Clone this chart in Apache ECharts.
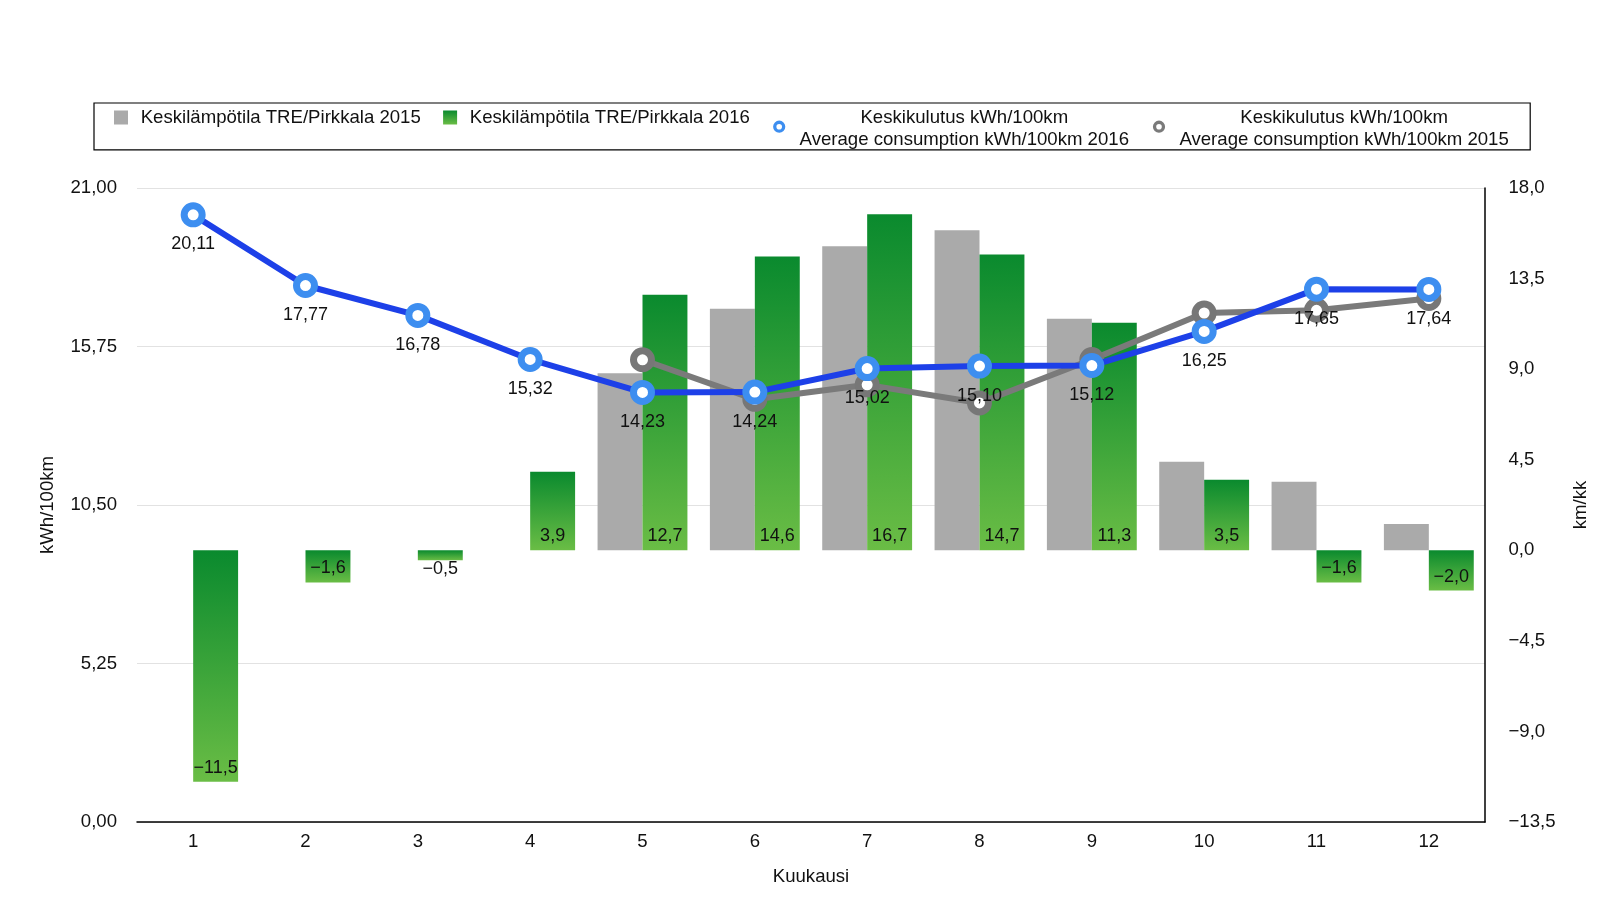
<!DOCTYPE html>
<html>
<head>
<meta charset="utf-8">
<script src="https://cdn.jsdelivr.net/npm/echarts@6/dist/echarts.min.js"></script>
<style>
html,body{margin:0;padding:0;background:#fff;}
#chart{width:1600px;height:923px;}
</style>
</head>
<body>
<div id="chart"></div>
<script>
var months = ['1','2','3','4','5','6','7','8','9','10','11','12'];
var temp2015 = [null, null, null, null, 8.8, 12.0, 15.1, 15.9, 11.5, 4.4, 3.4, 1.3];
var temp2016 = [-11.5, -1.6, -0.5, 3.9, 12.7, 14.6, 16.7, 14.7, 11.3, 3.5, -1.6, -2.0];
var cons2016 = [20.11, 17.77, 16.78, 15.32, 14.23, 14.24, 15.02, 15.10, 15.12, 16.25, 17.65, 17.64];
var cons2015 = [null, null, null, null, 15.31, 14.00, 14.48, 13.88, 15.32, 16.86, 16.95, 17.34];
var leftTicks = {min: 0, max: 21, interval: 5.25};
var rightTicks = {min: -13.5, max: 18, interval: 4.5};
var names = [
  'Keskilämpötila TRE/Pirkkala 2015',
  'Keskilämpötila TRE/Pirkkala 2016',
  'Keskikulutus kWh/100km\nAverage consumption kWh/100km 2016',
  'Keskikulutus kWh/100km\nAverage consumption kWh/100km 2015'
];

function fmt(v, d) {
  return Number(v).toFixed(d).replace('.', ',').replace('-', '\u2212');
}

var FONT = '"Liberation Sans", Arial, Helvetica, sans-serif';
var FS = 18.6;
var chart = echarts.init(document.getElementById('chart'));

function greenGrad(y2) {
  return new echarts.graphic.LinearGradient(0, 0, 0, y2, [
    {offset: 0, color: '#0a8a2e'},
    {offset: 1, color: '#6abd45'}
  ]);
}

var IH = 36.4;
var barIcon = 'path://M0,0L14,0L14,14L0,14Z M0,36.39L0.01,36.39L0.01,36.4L0,36.4Z M13.99,36.39L14,36.39L14,36.4L13.99,36.4Z';
var ringIcon = 'path://M0,0L0.01,0L0.01,0.01L0,0.01Z M13.99,36.39L14,36.39L14,36.4L13.99,36.4Z ' +
  'M0.9,16.2 A6.1,6.1 0 1 1 13.1,16.2 A6.1,6.1 0 1 1 0.9,16.2 Z ' +
  'M4.2,16.2 A2.8,2.8 0 1 0 9.8,16.2 A2.8,2.8 0 1 0 4.2,16.2 Z';

var greenData = temp2016.map(function (v) {
  var item = {value: v};
  if (v < 0 && v > -1) {
    item.label = {position: 'bottom', distance: 0};
  }
  return item;
});

var option = {
  animation: false,
  textStyle: {fontFamily: FONT},
  legend: {
    left: 94,
    top: 103,
    padding: [5, 13, 0.5, 20],
    borderColor: '#000',
    borderWidth: 1.2,
    itemWidth: 14,
    itemHeight: IH,
    itemGap: 14.6,
    selectedMode: false,
    textStyle: {
      fontFamily: FONT,
      fontSize: FS,
      color: '#111',
      rich: {
        a: {width: 295.5, align: 'center', fontSize: FS, lineHeight: 22.4, fontFamily: FONT, color: '#111'},
        b: {width: 346.2, align: 'center', fontSize: FS, lineHeight: 22.4, fontFamily: FONT, color: '#111'}
      }
    },
    formatter: function (name) {
      if (name.indexOf('\n') >= 0) {
        return name.split('\n').map(function (s) { return '{b|' + s + '}'; }).join('\n');
      }
      return '{a|' + name + '}\n{a| }';
    },
    data: [
      {name: names[0], icon: barIcon, itemStyle: {color: '#aaaaaa', borderWidth: 0}},
      {name: names[1], icon: barIcon, itemStyle: {color: greenGrad(14 / IH), borderWidth: 0}},
      {name: names[2], icon: ringIcon, itemStyle: {color: '#3d8ef0', borderWidth: 0}},
      {name: names[3], icon: ringIcon, itemStyle: {color: '#7a7a7a', borderWidth: 0}}
    ]
  },
  grid: {left: 137, right: 115, top: 188, bottom: 101},
  xAxis: {
    type: 'category',
    data: months,
    name: 'Kuukausi',
    nameLocation: 'middle',
    nameGap: 45,
    nameTextStyle: {fontSize: FS, color: '#111', fontFamily: FONT},
    axisLine: {lineStyle: {color: '#000', width: 1.5}},
    axisTick: {show: false},
    axisLabel: {fontSize: FS, color: '#111', margin: 10, fontFamily: FONT}
  },
  yAxis: [
    {
      type: 'value',
      position: 'left',
      min: leftTicks.min, max: leftTicks.max, interval: leftTicks.interval,
      name: 'kWh/100km',
      nameLocation: 'middle',
      nameGap: 80,
      nameTextStyle: {fontSize: FS, color: '#111', fontFamily: FONT},
      axisLine: {show: false},
      axisTick: {show: false},
      splitLine: {lineStyle: {color: '#e2e2e2', width: 1}},
      axisLabel: {fontSize: FS, color: '#111', margin: 20, fontFamily: FONT,
        formatter: function (v) { return fmt(v, 2); }}
    },
    {
      type: 'value',
      position: 'right',
      min: rightTicks.min, max: rightTicks.max, interval: rightTicks.interval,
      name: 'km/kk',
      nameLocation: 'middle',
      nameGap: 86,
      nameTextStyle: {fontSize: FS, color: '#111', fontFamily: FONT},
      axisLine: {show: true, lineStyle: {color: '#000', width: 1.5}},
      axisTick: {show: false},
      splitLine: {show: false},
      axisLabel: {fontSize: FS, color: '#111', margin: 23.5, fontFamily: FONT,
        formatter: function (v) { return fmt(v, 1); }}
    }
  ],
  series: [
    {
      name: names[0],
      type: 'bar',
      yAxisIndex: 1,
      barGap: '0%',
      barCategoryGap: '20%',
      data: temp2015,
      itemStyle: {color: '#aaaaaa'},
      z: 2
    },
    {
      name: names[1],
      type: 'bar',
      yAxisIndex: 1,
      barGap: '0%',
      barCategoryGap: '20%',
      data: greenData,
      itemStyle: {color: greenGrad(1)},
      label: {
        show: true,
        position: 'insideBottom',
        distance: 5,
        fontSize: 18,
        color: '#111',
        fontFamily: FONT,
        formatter: function (p) { return fmt(p.value, 1); }
      },
      z: 2
    },
    {
      name: names[3],
      type: 'line',
      yAxisIndex: 0,
      data: cons2015,
      symbol: 'circle',
      symbolSize: 18,
      lineStyle: {color: '#7a7a7a', width: 6},
      itemStyle: {color: '#ffffff', borderColor: '#777777', borderWidth: 7},
      z: 3
    },
    {
      name: names[2],
      type: 'line',
      yAxisIndex: 0,
      data: cons2016,
      symbol: 'circle',
      symbolSize: 18,
      lineStyle: {color: '#1d40e8', width: 6},
      itemStyle: {color: '#ffffff', borderColor: '#3d8ef0', borderWidth: 7},
      label: {
        show: true,
        position: 'bottom',
        distance: 8,
        fontSize: 18,
        color: '#111',
        fontFamily: FONT,
        formatter: function (p) { return fmt(p.value, 2); }
      },
      z: 4
    }
  ]
};
chart.setOption(option);
</script>
</body>
</html>
